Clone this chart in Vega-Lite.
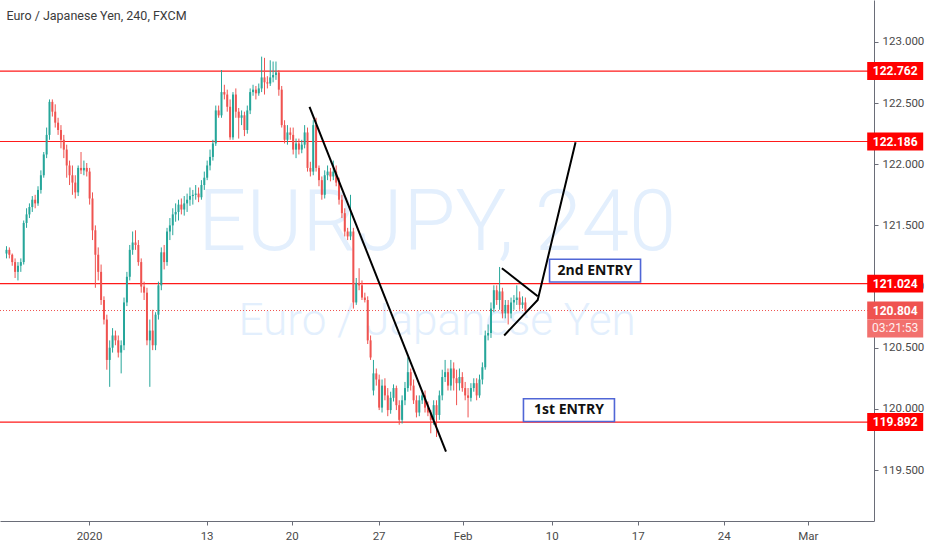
{
  "$schema": "https://vega.github.io/schema/vega-lite/v6.json",
  "width": 874,
  "height": 521,
  "autosize": {"type": "none"},
  "padding": {"left": 0, "top": 0, "right": 58, "bottom": 29},
  "background": "#ffffff",
  "title": {"text": "Euro / Japanese Yen, 240, FXCM", "anchor": "start", "offset": -22, "dx": 7, "font": "Roboto", "fontSize": 12.5, "fontWeight": "normal", "color": "#3b3b3b"},
  "config": {
    "view": {"stroke": null},
    "axis": {"grid": false, "labelFont": "Roboto", "labelFontSize": 11.5, "labelColor": "#4a4a4a", "domainColor": "#6a6d78", "tickColor": "#6a6d78", "tickSize": 4}
  },
  "datasets": {
    "candles": [
      {"t":0,"o":121.27,"c":121.30,"h":121.33,"l":121.23},
      {"t":1,"o":121.30,"c":121.26,"h":121.32,"l":121.23},
      {"t":2,"o":121.26,"c":121.20,"h":121.27,"l":121.17},
      {"t":3,"o":121.20,"c":121.12,"h":121.23,"l":121.07},
      {"t":4,"o":121.12,"c":121.17,"h":121.20,"l":121.05},
      {"t":5,"o":121.17,"c":121.20,"h":121.23,"l":121.12},
      {"t":6,"o":121.20,"c":121.52,"h":121.54,"l":121.18},
      {"t":7,"o":121.52,"c":121.59,"h":121.64,"l":121.48},
      {"t":8,"o":121.59,"c":121.65,"h":121.68,"l":121.56},
      {"t":9,"o":121.65,"c":121.71,"h":121.74,"l":121.61},
      {"t":10,"o":121.71,"c":121.68,"h":121.75,"l":121.64},
      {"t":11,"o":121.68,"c":121.79,"h":121.82,"l":121.66},
      {"t":12,"o":121.79,"c":121.91,"h":121.95,"l":121.76},
      {"t":13,"o":121.91,"c":122.08,"h":122.10,"l":121.89},
      {"t":14,"o":122.08,"c":122.24,"h":122.30,"l":122.05},
      {"t":15,"o":122.24,"c":122.51,"h":122.53,"l":122.20},
      {"t":16,"o":122.51,"c":122.43,"h":122.53,"l":122.39},
      {"t":17,"o":122.43,"c":122.34,"h":122.49,"l":122.30},
      {"t":18,"o":122.34,"c":122.28,"h":122.38,"l":122.24},
      {"t":19,"o":122.28,"c":122.20,"h":122.32,"l":122.13},
      {"t":20,"o":122.20,"c":122.12,"h":122.24,"l":122.05},
      {"t":21,"o":122.12,"c":121.99,"h":122.16,"l":121.89},
      {"t":22,"o":121.99,"c":121.91,"h":122.03,"l":121.83},
      {"t":23,"o":121.91,"c":121.85,"h":121.99,"l":121.75},
      {"t":24,"o":121.85,"c":121.77,"h":121.91,"l":121.72},
      {"t":25,"o":121.77,"c":121.97,"h":121.99,"l":121.74},
      {"t":26,"o":121.97,"c":121.95,"h":122.10,"l":121.92},
      {"t":27,"o":121.95,"c":121.97,"h":122.03,"l":121.91},
      {"t":28,"o":121.97,"c":121.94,"h":122.01,"l":121.90},
      {"t":29,"o":121.94,"c":121.72,"h":121.97,"l":121.67},
      {"t":30,"o":121.72,"c":121.46,"h":121.77,"l":121.38},
      {"t":31,"o":121.46,"c":121.26,"h":121.50,"l":120.99},
      {"t":32,"o":121.26,"c":121.12,"h":121.32,"l":121.05},
      {"t":33,"o":121.12,"c":120.89,"h":121.18,"l":120.85},
      {"t":34,"o":120.89,"c":120.73,"h":120.92,"l":120.69},
      {"t":35,"o":120.73,"c":120.40,"h":120.77,"l":120.32},
      {"t":36,"o":120.40,"c":120.50,"h":120.56,"l":120.18},
      {"t":37,"o":120.50,"c":120.60,"h":120.66,"l":120.46},
      {"t":38,"o":120.60,"c":120.56,"h":120.64,"l":120.52},
      {"t":39,"o":120.56,"c":120.46,"h":120.60,"l":120.42},
      {"t":40,"o":120.46,"c":120.52,"h":120.56,"l":120.29},
      {"t":41,"o":120.52,"c":120.87,"h":120.91,"l":120.48},
      {"t":42,"o":120.87,"c":121.08,"h":121.12,"l":120.84},
      {"t":43,"o":121.08,"c":121.30,"h":121.34,"l":121.05},
      {"t":44,"o":121.30,"c":121.36,"h":121.45,"l":121.26},
      {"t":45,"o":121.36,"c":121.34,"h":121.46,"l":121.30},
      {"t":46,"o":121.34,"c":121.20,"h":121.38,"l":121.17},
      {"t":47,"o":121.20,"c":121.00,"h":121.23,"l":120.95},
      {"t":48,"o":121.00,"c":120.95,"h":121.04,"l":120.89},
      {"t":49,"o":120.95,"c":120.56,"h":120.99,"l":120.52},
      {"t":50,"o":120.56,"c":120.64,"h":120.73,"l":120.18},
      {"t":51,"o":120.64,"c":120.52,"h":120.81,"l":120.48},
      {"t":52,"o":120.52,"c":120.77,"h":120.79,"l":120.48},
      {"t":53,"o":120.77,"c":121.01,"h":121.04,"l":120.73},
      {"t":54,"o":121.01,"c":121.28,"h":121.32,"l":120.97},
      {"t":55,"o":121.28,"c":121.20,"h":121.34,"l":121.14},
      {"t":56,"o":121.20,"c":121.45,"h":121.48,"l":121.17},
      {"t":57,"o":121.45,"c":121.50,"h":121.56,"l":121.38},
      {"t":58,"o":121.50,"c":121.59,"h":121.64,"l":121.42},
      {"t":59,"o":121.59,"c":121.61,"h":121.68,"l":121.53},
      {"t":60,"o":121.61,"c":121.67,"h":121.71,"l":121.54},
      {"t":61,"o":121.67,"c":121.63,"h":121.72,"l":121.59},
      {"t":62,"o":121.63,"c":121.68,"h":121.74,"l":121.58},
      {"t":63,"o":121.68,"c":121.71,"h":121.76,"l":121.61},
      {"t":64,"o":121.71,"c":121.74,"h":121.81,"l":121.66},
      {"t":65,"o":121.74,"c":121.75,"h":121.79,"l":121.67},
      {"t":66,"o":121.75,"c":121.76,"h":121.83,"l":121.71},
      {"t":67,"o":121.76,"c":121.73,"h":121.81,"l":121.69},
      {"t":68,"o":121.73,"c":121.83,"h":121.87,"l":121.71},
      {"t":69,"o":121.83,"c":121.89,"h":121.94,"l":121.79},
      {"t":70,"o":121.89,"c":121.99,"h":122.03,"l":121.87},
      {"t":71,"o":121.99,"c":122.06,"h":122.12,"l":121.95},
      {"t":72,"o":122.06,"c":122.17,"h":122.20,"l":122.03},
      {"t":73,"o":122.17,"c":122.44,"h":122.48,"l":122.15},
      {"t":74,"o":122.44,"c":122.40,"h":122.48,"l":122.38},
      {"t":75,"o":122.40,"c":122.59,"h":122.77,"l":122.38},
      {"t":76,"o":122.59,"c":122.57,"h":122.65,"l":122.53},
      {"t":77,"o":122.57,"c":122.47,"h":122.61,"l":122.43},
      {"t":78,"o":122.47,"c":122.22,"h":122.53,"l":122.20},
      {"t":79,"o":122.22,"c":122.57,"h":122.59,"l":122.20},
      {"t":80,"o":122.57,"c":122.43,"h":122.62,"l":122.38},
      {"t":81,"o":122.43,"c":122.38,"h":122.46,"l":122.21},
      {"t":82,"o":122.38,"c":122.40,"h":122.44,"l":122.32},
      {"t":83,"o":122.40,"c":122.28,"h":122.43,"l":122.23},
      {"t":84,"o":122.28,"c":122.44,"h":122.48,"l":122.25},
      {"t":85,"o":122.44,"c":122.59,"h":122.62,"l":122.41},
      {"t":86,"o":122.59,"c":122.61,"h":122.65,"l":122.56},
      {"t":87,"o":122.61,"c":122.58,"h":122.64,"l":122.53},
      {"t":88,"o":122.58,"c":122.62,"h":122.66,"l":122.56},
      {"t":89,"o":122.62,"c":122.71,"h":122.88,"l":122.59},
      {"t":90,"o":122.71,"c":122.67,"h":122.87,"l":122.57},
      {"t":91,"o":122.67,"c":122.66,"h":122.72,"l":122.62},
      {"t":92,"o":122.66,"c":122.71,"h":122.85,"l":122.64},
      {"t":93,"o":122.71,"c":122.73,"h":122.84,"l":122.67},
      {"t":94,"o":122.73,"c":122.75,"h":122.84,"l":122.69},
      {"t":95,"o":122.75,"c":122.61,"h":122.77,"l":122.56},
      {"t":96,"o":122.61,"c":122.32,"h":122.64,"l":122.30},
      {"t":97,"o":122.32,"c":122.20,"h":122.36,"l":122.17},
      {"t":98,"o":122.20,"c":122.26,"h":122.32,"l":122.16},
      {"t":99,"o":122.26,"c":122.24,"h":122.30,"l":122.20},
      {"t":100,"o":122.24,"c":122.12,"h":122.30,"l":122.08},
      {"t":101,"o":122.12,"c":122.17,"h":122.21,"l":122.05},
      {"t":102,"o":122.17,"c":122.12,"h":122.21,"l":122.08},
      {"t":103,"o":122.12,"c":122.16,"h":122.20,"l":122.09},
      {"t":104,"o":122.16,"c":122.26,"h":122.32,"l":122.13},
      {"t":105,"o":122.26,"c":121.97,"h":122.30,"l":121.94},
      {"t":106,"o":121.97,"c":121.94,"h":122.02,"l":121.90},
      {"t":107,"o":121.94,"c":122.32,"h":122.36,"l":121.91},
      {"t":108,"o":122.32,"c":121.97,"h":122.38,"l":121.94},
      {"t":109,"o":121.97,"c":121.87,"h":121.99,"l":121.82},
      {"t":110,"o":121.87,"c":121.75,"h":121.90,"l":121.71},
      {"t":111,"o":121.75,"c":121.91,"h":121.95,"l":121.72},
      {"t":112,"o":121.91,"c":121.94,"h":121.99,"l":121.87},
      {"t":113,"o":121.94,"c":121.90,"h":121.97,"l":121.86},
      {"t":114,"o":121.90,"c":121.94,"h":122.03,"l":121.87},
      {"t":115,"o":121.94,"c":121.85,"h":121.99,"l":121.82},
      {"t":116,"o":121.85,"c":121.71,"h":121.89,"l":121.67},
      {"t":117,"o":121.71,"c":121.60,"h":121.75,"l":121.56},
      {"t":118,"o":121.60,"c":121.45,"h":121.64,"l":121.41},
      {"t":119,"o":121.45,"c":121.41,"h":121.48,"l":121.38},
      {"t":120,"o":121.41,"c":121.45,"h":121.75,"l":121.38},
      {"t":121,"o":121.45,"c":120.87,"h":121.48,"l":120.82},
      {"t":122,"o":120.87,"c":121.03,"h":121.07,"l":120.85},
      {"t":123,"o":121.03,"c":121.01,"h":121.15,"l":120.97},
      {"t":124,"o":121.01,"c":120.91,"h":121.05,"l":120.89},
      {"t":125,"o":120.91,"c":120.89,"h":120.95,"l":120.87},
      {"t":126,"o":120.89,"c":120.56,"h":120.92,"l":120.53},
      {"t":127,"o":120.56,"c":120.42,"h":120.60,"l":120.40},
      {"t":128,"o":120.15,"c":120.29,"h":120.40,"l":120.11},
      {"t":129,"o":120.29,"c":120.24,"h":120.33,"l":120.19},
      {"t":130,"o":120.24,"c":120.01,"h":120.28,"l":119.99},
      {"t":131,"o":120.01,"c":120.19,"h":120.24,"l":119.97},
      {"t":132,"o":120.19,"c":120.11,"h":120.25,"l":120.07},
      {"t":133,"o":120.11,"c":119.99,"h":120.17,"l":119.94},
      {"t":134,"o":119.99,"c":120.09,"h":120.14,"l":119.96},
      {"t":135,"o":120.09,"c":120.17,"h":120.20,"l":120.06},
      {"t":136,"o":120.17,"c":120.03,"h":120.19,"l":119.99},
      {"t":137,"o":120.03,"c":119.91,"h":120.07,"l":119.87},
      {"t":138,"o":119.91,"c":120.07,"h":120.11,"l":119.88},
      {"t":139,"o":120.07,"c":120.17,"h":120.22,"l":120.03},
      {"t":140,"o":120.17,"c":120.30,"h":120.42,"l":120.14},
      {"t":141,"o":120.30,"c":120.19,"h":120.33,"l":120.15},
      {"t":142,"o":120.19,"c":120.07,"h":120.24,"l":120.04},
      {"t":143,"o":120.07,"c":119.97,"h":120.11,"l":119.93},
      {"t":144,"o":119.97,"c":120.07,"h":120.11,"l":119.94},
      {"t":145,"o":120.07,"c":120.11,"h":120.15,"l":120.04},
      {"t":146,"o":120.11,"c":120.01,"h":120.15,"l":119.97},
      {"t":147,"o":120.01,"c":119.97,"h":120.06,"l":119.94},
      {"t":148,"o":119.97,"c":119.91,"h":119.99,"l":119.80},
      {"t":149,"o":119.91,"c":120.03,"h":120.07,"l":119.87},
      {"t":150,"o":120.03,"c":119.95,"h":120.07,"l":119.77},
      {"t":151,"o":119.95,"c":120.11,"h":120.15,"l":119.91},
      {"t":152,"o":120.11,"c":120.26,"h":120.32,"l":120.07},
      {"t":153,"o":120.26,"c":120.30,"h":120.40,"l":120.22},
      {"t":154,"o":120.30,"c":120.19,"h":120.33,"l":120.15},
      {"t":155,"o":120.19,"c":120.33,"h":120.40,"l":120.15},
      {"t":156,"o":120.33,"c":120.25,"h":120.38,"l":120.15},
      {"t":157,"o":120.25,"c":120.21,"h":120.32,"l":120.03},
      {"t":158,"o":120.21,"c":120.26,"h":120.33,"l":120.15},
      {"t":159,"o":120.26,"c":120.17,"h":120.30,"l":120.14},
      {"t":160,"o":120.17,"c":120.11,"h":120.22,"l":120.07},
      {"t":161,"o":120.11,"c":120.09,"h":120.17,"l":119.93},
      {"t":162,"o":120.09,"c":120.17,"h":120.21,"l":120.06},
      {"t":163,"o":120.17,"c":120.21,"h":120.25,"l":120.14},
      {"t":164,"o":120.21,"c":120.11,"h":120.25,"l":120.07},
      {"t":165,"o":120.11,"c":120.24,"h":120.28,"l":120.09},
      {"t":166,"o":120.24,"c":120.34,"h":120.38,"l":120.20},
      {"t":167,"o":120.34,"c":120.60,"h":120.64,"l":120.32},
      {"t":168,"o":120.60,"c":120.62,"h":120.69,"l":120.56},
      {"t":169,"o":120.62,"c":120.82,"h":120.87,"l":120.58},
      {"t":170,"o":120.82,"c":120.97,"h":121.01,"l":120.79},
      {"t":171,"o":120.97,"c":120.89,"h":121.01,"l":120.85},
      {"t":172,"o":120.89,"c":120.96,"h":121.16,"l":120.81},
      {"t":173,"o":120.96,"c":120.78,"h":120.99,"l":120.74},
      {"t":174,"o":120.78,"c":120.85,"h":120.89,"l":120.74},
      {"t":175,"o":120.85,"c":120.78,"h":120.89,"l":120.69},
      {"t":176,"o":120.78,"c":120.87,"h":120.91,"l":120.74},
      {"t":177,"o":120.87,"c":120.89,"h":120.93,"l":120.81},
      {"t":178,"o":120.89,"c":120.91,"h":121.01,"l":120.85},
      {"t":179,"o":120.91,"c":120.85,"h":120.96,"l":120.81},
      {"t":180,"o":120.85,"c":120.87,"h":120.92,"l":120.82},
      {"t":181,"o":120.87,"c":120.80,"h":120.91,"l":120.79}
    ],
    "levels": [
      {"p":122.762,"label":"122.762","k":"level"},
      {"p":122.186,"label":"122.186","k":"level"},
      {"p":121.024,"label":"121.024","k":"level"},
      {"p":119.892,"label":"119.892","k":"level"},
      {"p":120.804,"label":"120.804","k":"last"},
      {"p":120.657,"label":"03:21:53","k":"timer"}
    ],
    "trend": [
      {"g":"a","t":105.7,"p":122.47},
      {"g":"a","t":153.3,"p":119.65},
      {"g":"b","t":172.8,"p":121.15},
      {"g":"b","t":185.3,"p":120.92},
      {"g":"c","t":173.6,"p":120.60},
      {"g":"c","t":185.3,"p":120.89},
      {"g":"c","t":198.5,"p":122.18}
    ],
    "notes": [
      {"t":205.3,"p":121.13,"text":"2nd ENTRY"},
      {"t":196.2,"p":119.99,"text":"1st ENTRY"}
    ],
    "watermark": [
      {"t":150.2,"p":121.30,"text":"EURJPY, 240","k":"big"},
      {"t":150.2,"p":120.60,"text":"Euro / Japanese Yen","k":"small"}
    ]
  },
  "layer": [
    {
      "encoding": {
        "x": {
          "field": "t",
          "type": "quantitative",
          "title": null,
          "scale": {"domain": [-0.52, 300.86], "nice": false, "zero": false},
          "axis": {
            "values": [28.8, 69.8, 99.5, 129.8, 159.1, 190.2, 220.2, 250.2, 279.5],
            "labelExpr": "['2020','13','20','27','Feb','10','17','24','Mar'][indexof([28.8, 69.8, 99.5, 129.8, 159.1, 190.2, 220.2, 250.2, 279.5], datum.value)]",
            "labelPadding": 5,
            "labelFlush": false
          }
        },
        "y": {
          "field": "p",
          "type": "quantitative",
          "title": null,
          "scale": {"domain": [119.083, 123.343], "nice": false, "zero": false},
          "axis": {
            "orient": "right",
            "values": [119.5, 120, 120.5, 121, 121.5, 122, 122.5, 123],
            "format": ".3f",
            "labelPadding": 4
          }
        }
      },
      "layer": [
        {
          "data": {"name": "watermark"},
          "transform": [{"filter": "datum.k == 'big'"}],
          "mark": {"type": "text", "font": "Roboto", "fontWeight": 300, "fontSize": 85, "color": "#e3effd", "align": "center", "baseline": "alphabetic"},
          "encoding": {"text": {"field": "text"}}
        },
        {
          "data": {"name": "watermark"},
          "transform": [{"filter": "datum.k == 'small'"}],
          "mark": {"type": "text", "font": "Roboto", "fontWeight": 300, "fontSize": 44, "color": "#e3effd", "align": "center", "baseline": "alphabetic"},
          "encoding": {"text": {"field": "text"}}
        },
        {
          "data": {"name": "levels"},
          "transform": [{"filter": "datum.k == 'level'"}],
          "mark": {"type": "rule", "color": "#ff1a1a", "strokeWidth": 1.2},
          "encoding": {"x": null}
        },
        {
          "data": {"name": "levels"},
          "transform": [{"filter": "datum.k == 'last'"}],
          "mark": {"type": "rule", "color": "#ef5350", "strokeWidth": 1, "strokeDash": [1, 2]},
          "encoding": {"x": null}
        },
        {
          "data": {"name": "candles"},
          "mark": {"type": "rule", "strokeWidth": 1},
          "encoding": {
            "y": {"field": "l", "type": "quantitative", "title": null, "scale": {"domain": [119.083, 123.343], "nice": false, "zero": false}},
            "y2": {"field": "h"},
            "color": {"condition": {"test": "datum.c >= datum.o", "value": "#26a69a"}, "value": "#ef5350"}
          }
        },
        {
          "data": {"name": "candles"},
          "mark": {"type": "bar", "width": 2},
          "encoding": {
            "y": {"field": "o", "type": "quantitative", "title": null, "scale": {"domain": [119.083, 123.343], "nice": false, "zero": false}},
            "y2": {"field": "c"},
            "color": {"condition": {"test": "datum.c >= datum.o", "value": "#26a69a"}, "value": "#ef5350"}
          }
        },
        {
          "data": {"name": "trend"},
          "mark": {"type": "line", "color": "#000000", "strokeWidth": 2},
          "encoding": {"detail": {"field": "g"}}
        },
        {
          "data": {"name": "notes"},
          "mark": {"type": "point", "shape": "M-1,-0.25L1,-0.25L1,0.25L-1,0.25Z", "size": 8281, "filled": true, "fill": "#ffffff", "stroke": "#5066d6", "strokeWidth": 1.6, "opacity": 1}
        },
        {
          "data": {"name": "notes"},
          "mark": {"type": "text", "font": "Open Sans", "fontWeight": "bold", "fontSize": 14, "color": "#111111", "align": "center", "baseline": "middle"},
          "encoding": {"text": {"field": "text"}}
        }
      ]
    },
    {
      "data": {"name": "levels"},
      "mark": {"type": "point", "shape": "M-1,-0.32L1,-0.32L1,0.32L-1,0.32Z", "size": 3136, "filled": true, "opacity": 1, "clip": false},
      "encoding": {
        "x": {"datum": 310, "type": "quantitative", "title": null},
        "y": {"field": "p", "type": "quantitative", "title": null, "scale": {"domain": [119.083, 123.343], "nice": false, "zero": false}},
        "fill": {"condition": [{"test": "datum.k == 'level'", "value": "#ff0000"}, {"test": "datum.k == 'last'", "value": "#ef5350"}], "value": "#f2716e"}
      }
    },
    {
      "data": {"name": "levels"},
      "transform": [{"filter": "datum.k != 'timer'"}],
      "mark": {"type": "text", "font": "Roboto", "fontWeight": "bold", "fontSize": 12, "color": "#ffffff", "align": "center", "baseline": "middle", "clip": false},
      "encoding": {
        "x": {"datum": 310, "type": "quantitative", "title": null},
        "y": {"field": "p", "type": "quantitative", "title": null, "scale": {"domain": [119.083, 123.343], "nice": false, "zero": false}},
        "text": {"field": "label"}
      }
    },
    {
      "data": {"name": "levels"},
      "transform": [{"filter": "datum.k == 'timer'"}],
      "mark": {"type": "text", "font": "Roboto", "fontWeight": "normal", "fontSize": 12, "color": "#fff0f0", "align": "center", "baseline": "middle", "clip": false},
      "encoding": {
        "x": {"datum": 310, "type": "quantitative", "title": null},
        "y": {"field": "p", "type": "quantitative", "title": null, "scale": {"domain": [119.083, 123.343], "nice": false, "zero": false}},
        "text": {"field": "label"}
      }
    }
  ]
}
